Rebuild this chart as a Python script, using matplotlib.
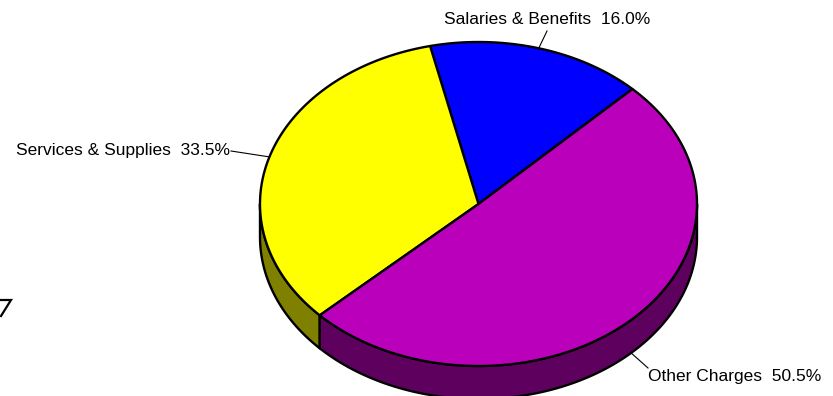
import matplotlib.pyplot as plt
import numpy as np
from matplotlib.patches import Polygon

labels = ["Salaries & Benefits", "Services & Supplies", "Other Charges"]
shares = [16.0, 33.5, 50.5]
colors = ["#0000FF", "#FFFF00", "#BB00BB"]
side_colors = ["#000080", "#808000", "#5E005E"]

# label anchor (x, y) and alignment, in pixel space
label_pos = [(444, 20, "left"), (230, 151, "right"), (648, 376, "left")]
leader_end = [(547, 31), (231, 151), (648, 368)]

W, H = 833, 396
cx, cy, rx, ry, depth = 478.5, 204.0, 218.5, 162.0, 33.0
start = 45.2

plt.rcParams["font.family"] = ["Liberation Sans", "DejaVu Sans"]

fig = plt.figure(figsize=(W / 100, H / 100), dpi=100)
ax = fig.add_axes([0, 0, 1, 1])
ax.set_xlim(0, W)
ax.set_ylim(H, 0)
ax.axis("off")


def arc(t1, t2, dy=0.0, n=200):
    t = np.radians(np.linspace(t1, t2, n))
    return np.column_stack([cx + rx * np.cos(t), cy - ry * np.sin(t) + dy])


fracs = np.array(shares) / sum(shares) * 360
bounds = start + np.concatenate([[0], np.cumsum(fracs)])

# side walls: only the front half (180..360 deg) shows
for i in range(len(shares)):
    t1, t2 = bounds[i], bounds[i + 1]
    for shift in (-360, 0, 360):
        a, b = max(t1 + shift, 180), min(t2 + shift, 360)
        if b <= a:
            continue
        top = arc(a, b)
        bot = arc(b, a, dy=depth)
        ax.add_patch(Polygon(np.vstack([top, bot]), closed=True,
                             facecolor=side_colors[i], edgecolor="black",
                             linewidth=1.7, joinstyle="round"))

# top faces
for i in range(len(shares)):
    pts = np.vstack([[cx, cy], arc(bounds[i], bounds[i + 1])])
    ax.add_patch(Polygon(pts, closed=True, facecolor=colors[i],
                         edgecolor="black", linewidth=1.7, joinstyle="round"))

# leader lines and labels
for i, lab in enumerate(labels):
    mid = np.radians((bounds[i] + bounds[i + 1]) / 2)
    px = cx + rx * np.cos(mid)
    py = cy - ry * np.sin(mid)
    if np.sin(mid) < 0:
        py += depth
    ex, ey = leader_end[i]
    ax.plot([px, ex], [py, ey], color="black", linewidth=0.8)
    x, y, ha = label_pos[i]
    ax.text(x, y, f"{lab}  {shares[i]:.1f}%", ha=ha, va="center",
            fontsize=12.5, color="black")

# stray stroke at the left edge
ax.plot([0, 11, 1], [300, 300, 316], color="black", linewidth=1.6,
        solid_joinstyle="miter")

fig.savefig("out.png", dpi=100)
